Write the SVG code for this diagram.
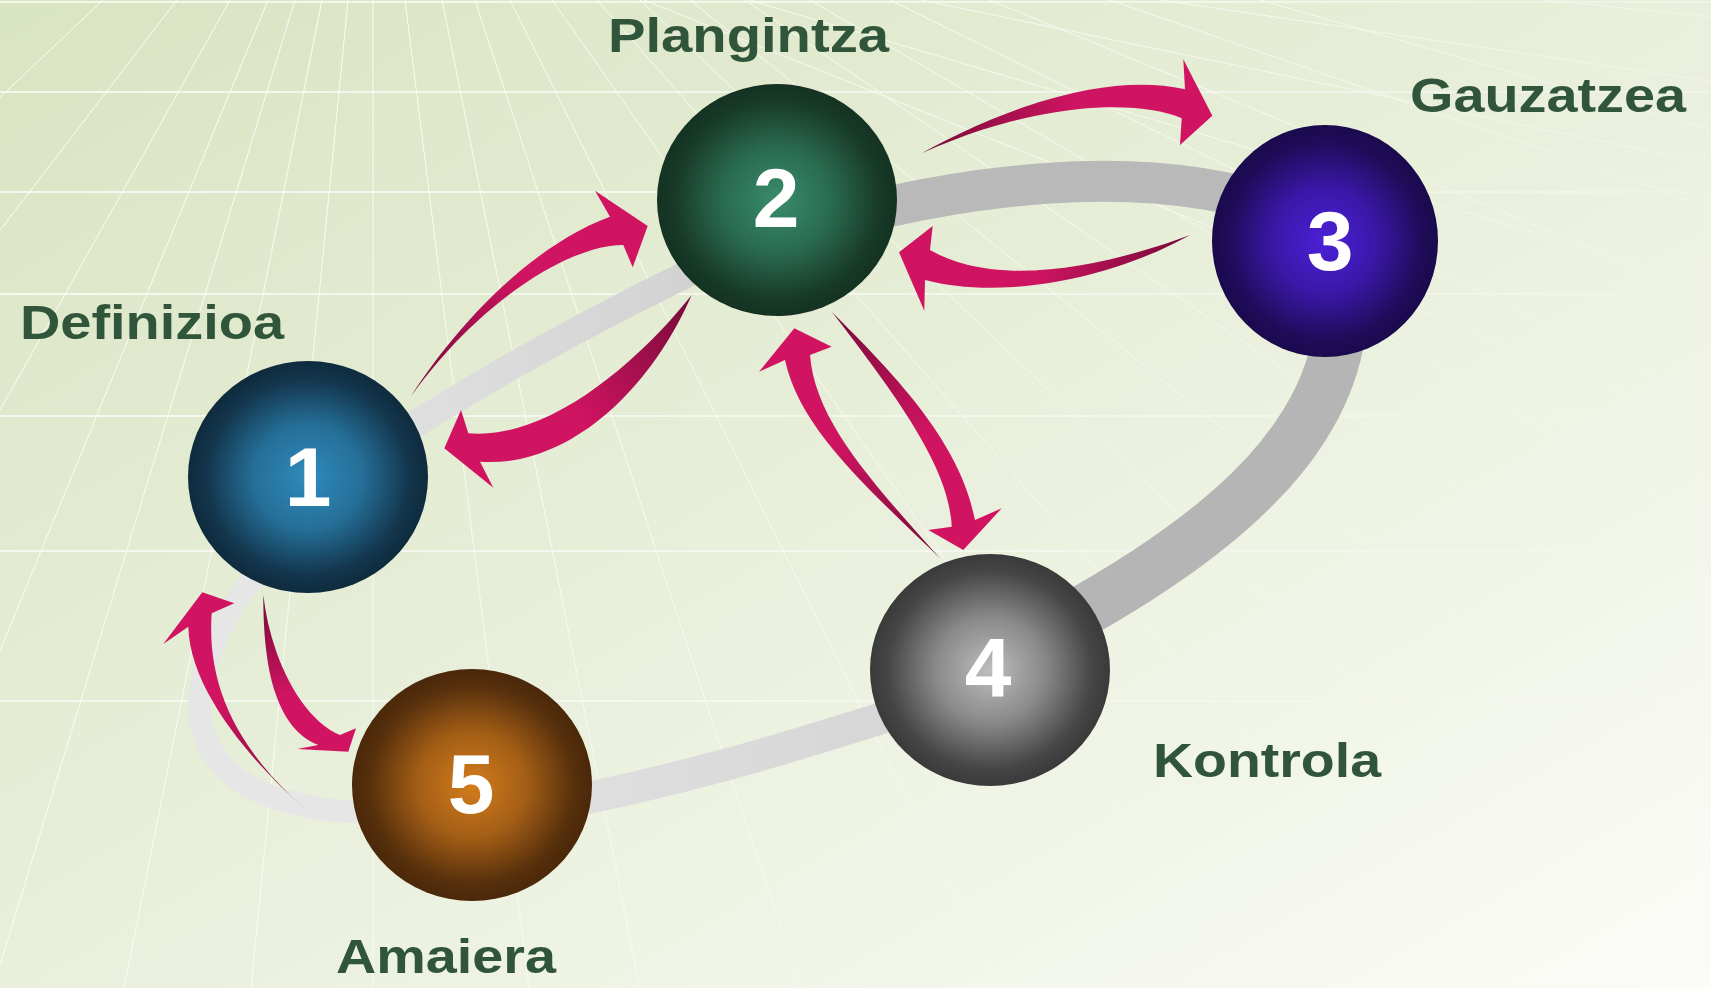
<svg xmlns="http://www.w3.org/2000/svg" width="1711" height="988" viewBox="0 0 1711 988">
<defs>
<style>
.lbl{font-family:"Liberation Sans",Arial,sans-serif;font-weight:bold;font-size:48px;fill:#30553a}
.num{font-family:"Liberation Sans",Arial,sans-serif;font-weight:bold;font-size:84px;fill:#ffffff;text-anchor:middle}
.gh{stroke:#ffffff;stroke-width:1.6;opacity:0.9}
.gr{stroke:#ffffff;stroke-width:1;opacity:0.85}
.ring{fill:none;stroke-linecap:butt}
</style>
<linearGradient id="bg" x1="0" y1="0" x2="1" y2="1">
<stop offset="0" stop-color="#d9e4c2"/>
<stop offset="0.45" stop-color="#e7eed8"/>
<stop offset="1" stop-color="#fbfcf8"/>
</linearGradient>
<linearGradient id="fade" gradientUnits="userSpaceOnUse" x1="250" y1="150" x2="1300" y2="988">
<stop offset="0" stop-color="#ffffff" stop-opacity="1"/>
<stop offset="0.5" stop-color="#ffffff" stop-opacity="0.75"/>
<stop offset="1" stop-color="#ffffff" stop-opacity="0.15"/>
</linearGradient>
<mask id="gridmask" maskUnits="userSpaceOnUse" x="0" y="0" width="1711" height="988">
<rect x="0" y="0" width="1711" height="988" fill="url(#fade)"/>
</mask>
<radialGradient id="c1"><stop offset="0" stop-color="#2f8bbb"/><stop offset="0.45" stop-color="#256f98"/><stop offset="0.85" stop-color="#13354c"/><stop offset="1" stop-color="#0f2b3d"/></radialGradient>
<radialGradient id="c2"><stop offset="0" stop-color="#398c6c"/><stop offset="0.45" stop-color="#2a6b50"/><stop offset="0.85" stop-color="#183a29"/><stop offset="1" stop-color="#143222"/></radialGradient>
<radialGradient id="c3"><stop offset="0" stop-color="#4c20d8"/><stop offset="0.45" stop-color="#3a18a8"/><stop offset="0.85" stop-color="#1f0c5a"/><stop offset="1" stop-color="#1a0a4c"/></radialGradient>
<radialGradient id="c4"><stop offset="0" stop-color="#bdbdbd"/><stop offset="0.45" stop-color="#8a8a8a"/><stop offset="0.85" stop-color="#464646"/><stop offset="1" stop-color="#3a3a3a"/></radialGradient>
<radialGradient id="c5"><stop offset="0" stop-color="#d47c1c"/><stop offset="0.45" stop-color="#a45e16"/><stop offset="0.85" stop-color="#57300c"/><stop offset="1" stop-color="#4a280a"/></radialGradient>
<linearGradient id="r12" gradientUnits="userSpaceOnUse" x1="330" y1="0" x2="760" y2="0"><stop offset="0" stop-color="#e3e3e3"/><stop offset="1" stop-color="#cfcfcf"/></linearGradient>
<linearGradient id="r45" gradientUnits="userSpaceOnUse" x1="470" y1="0" x2="1000" y2="0"><stop offset="0" stop-color="#e2e2e2"/><stop offset="1" stop-color="#d3d3d3"/></linearGradient>
<linearGradient id="aA" gradientUnits="userSpaceOnUse" x1="411" y1="397" x2="648" y2="226"><stop offset="0" stop-color="#760a38"/><stop offset="0.55" stop-color="#cf1461"/><stop offset="1" stop-color="#d11462"/></linearGradient>
<linearGradient id="aB" gradientUnits="userSpaceOnUse" x1="692" y1="295" x2="444" y2="448"><stop offset="0" stop-color="#760a38"/><stop offset="0.55" stop-color="#cf1461"/><stop offset="1" stop-color="#d11462"/></linearGradient>
<linearGradient id="aC" gradientUnits="userSpaceOnUse" x1="922" y1="153" x2="1212" y2="116"><stop offset="0" stop-color="#760a38"/><stop offset="0.55" stop-color="#cf1461"/><stop offset="1" stop-color="#d11462"/></linearGradient>
<linearGradient id="aD" gradientUnits="userSpaceOnUse" x1="1190" y1="235" x2="899" y2="252"><stop offset="0" stop-color="#760a38"/><stop offset="0.55" stop-color="#cf1461"/><stop offset="1" stop-color="#d11462"/></linearGradient>
<linearGradient id="aE" gradientUnits="userSpaceOnUse" x1="832" y1="312" x2="963" y2="550"><stop offset="0" stop-color="#760a38"/><stop offset="0.55" stop-color="#cf1461"/><stop offset="1" stop-color="#d11462"/></linearGradient>
<linearGradient id="aF" gradientUnits="userSpaceOnUse" x1="940" y1="558" x2="794" y2="328"><stop offset="0" stop-color="#760a38"/><stop offset="0.55" stop-color="#cf1461"/><stop offset="1" stop-color="#d11462"/></linearGradient>
<linearGradient id="aG" gradientUnits="userSpaceOnUse" x1="263" y1="595" x2="348" y2="752"><stop offset="0" stop-color="#760a38"/><stop offset="0.55" stop-color="#cf1461"/><stop offset="1" stop-color="#d11462"/></linearGradient>
<linearGradient id="aH" gradientUnits="userSpaceOnUse" x1="307" y1="811" x2="202" y2="592"><stop offset="0" stop-color="#760a38"/><stop offset="0.55" stop-color="#cf1461"/><stop offset="1" stop-color="#d11462"/></linearGradient>
</defs>

<rect x="0" y="0" width="1711" height="988" fill="url(#bg)"/>

<g id="grid" mask="url(#gridmask)">
<line class="gh" x1="0" y1="2" x2="1711" y2="2"/>
<line class="gh" x1="0" y1="92" x2="1711" y2="92"/>
<line class="gh" x1="0" y1="192" x2="1711" y2="192"/>
<line class="gh" x1="0" y1="294" x2="1711" y2="294"/>
<line class="gh" x1="0" y1="416" x2="1711" y2="416"/>
<line class="gh" x1="0" y1="551" x2="1711" y2="551"/>
<line class="gh" x1="0" y1="701" x2="1711" y2="701"/>
<g>
<line class="gr" x1="103" y1="0" x2="-943" y2="988"/>
<line class="gr" x1="177" y1="0" x2="-582" y2="988"/>
<line class="gr" x1="230" y1="0" x2="-324" y2="988"/>
<line class="gr" x1="268" y1="0" x2="-139" y2="988"/>
<line class="gr" x1="295" y1="0" x2="-7" y2="988"/>
<line class="gr" x1="322" y1="0" x2="124" y2="988"/>
<line class="gr" x1="348" y1="0" x2="251" y2="988"/>
<line class="gr" x1="373" y1="0" x2="373" y2="988"/>
<line class="gr" x1="405" y1="0" x2="529" y2="988"/>
<line class="gr" x1="442" y1="0" x2="640" y2="988"/>
<line class="gr" x1="475" y1="0" x2="800" y2="988"/>
<line class="gr" x1="510" y1="0" x2="1000" y2="988"/>
<line class="gr" x1="552" y1="0" x2="1246" y2="988"/>
<line class="gr" x1="597" y1="0" x2="1465" y2="988"/>
<line class="gr" x1="640" y1="0" x2="1675" y2="988"/>
<line class="gr" x1="690" y1="0" x2="1918" y2="988"/>
<line class="gr" x1="745" y1="0" x2="2186" y2="988"/>
<line class="gr" x1="810" y1="0" x2="2503" y2="988"/>
<line class="gr" x1="890" y1="0" x2="2893" y2="988"/>
<line class="gr" x1="990" y1="0" x2="3381" y2="988"/>
<line class="gr" x1="1110" y1="0" x2="3966" y2="988"/>
<line class="gr" x1="1260" y1="0" x2="4697" y2="988"/>
</g>
<g>
<line class="gr" x1="1544" y1="0" x2="1711" y2="16.7"/>
<line class="gr" x1="1160" y1="0" x2="1711" y2="81"/>
<line class="gr" x1="921" y1="0" x2="1711" y2="164"/>
<line class="gr" x1="749" y1="0" x2="1711" y2="285"/>
<line class="gr" x1="644" y1="0" x2="1711" y2="427"/>
</g>
</g>

<g id="connectors">
<path class="ring" d="M 470,805 C 300,830 195,790 200,700 C 203,640 240,590 300,520" stroke="#e6e6e6" stroke-width="23"/>
<path class="ring" d="M 1000,680 C 850,728 690,785 470,820" stroke="url(#r45)" stroke-width="32"/>
<path class="ring" d="M 1342,300 C 1342,420 1250,530 1010,650" stroke="#b5b5b5" stroke-width="52"/>
<path class="ring" d="M 800,230 C 950,185 1150,155 1300,215" stroke="#b9b9b9" stroke-width="41"/>
<path class="ring" d="M 330,478 C 420,420 560,330 760,240" stroke="url(#r12)" stroke-width="27"/>
</g>

<g id="node1"><ellipse cx="308" cy="477" rx="120" ry="116" fill="url(#c1)"/><text class="num" x="308" y="506">1</text></g>
<g id="node2"><ellipse cx="777" cy="200" rx="120" ry="116" fill="url(#c2)"/><text class="num" x="776" y="227">2</text></g>
<g id="node3"><ellipse cx="1325" cy="241" rx="113" ry="116" fill="url(#c3)"/><text class="num" x="1330" y="270">3</text></g>
<g id="node4"><ellipse cx="990" cy="670" rx="120" ry="116" fill="url(#c4)"/><text class="num" x="988" y="697">4</text></g>
<g id="node5"><ellipse cx="472" cy="785" rx="120" ry="116" fill="url(#c5)"/><text class="num" x="471" y="813">5</text></g>

<g id="arrows">
<path fill="url(#aA)" d="M410.7,396.7 C450,335 525,248 610,216.7 L595,190.7 L647.7,226 L632.7,267.3 L623.3,245 C570,245 480,300 410.7,396.7 Z"/>
<path fill="url(#aB)" d="M691.7,295 C640,360 550,440 468.3,433.3 L461,410 L444.3,448.3 L493.3,487.7 L480,461.7 C565,468 648,395 691.7,295 Z"/>
<path fill="url(#aC)" d="M921.7,153.3 C990,115 1100,70 1185,89.3 L1183.3,59.3 L1212.3,115.7 L1180,145 L1181.7,118.3 C1140,100 1040,100 921.7,153.3 Z"/>
<path fill="url(#aD)" d="M1190,235 C1110,265 1000,290 930,250 L932.7,226 L899,252.3 L924.3,310.7 L925,280 C1000,300 1110,280 1190,235 Z"/>
<path fill="url(#aE)" d="M831.7,311.7 C890,370 960,440 975,520 L1001.7,508.3 L963.3,550 L928.3,530 L951.7,526.7 C950,470 900,400 831.7,311.7 Z"/>
<path fill="url(#aF)" d="M940,558.3 C870,490 800,430 785,360 L759,371.7 L794.3,328.3 L831.7,346.7 L810,355 C815,420 870,480 940,558.3 Z"/>
<path fill="url(#aG)" d="M263.3,595 C270,655 300,718 340,735 L356,728.3 L348.3,751.7 L297.3,749 L318.3,745 C285,732 263,690 263.3,595 Z"/>
<path fill="url(#aH)" d="M306.7,810.7 C250,760 190,690 188.3,626.7 L163.3,644 L202.3,592.3 L234.3,603.3 L211.7,613.3 C207,680 232,745 306.7,810.7 Z"/>
</g>

<g id="labels">
<text class="lbl" x="20" y="339" textLength="264" lengthAdjust="spacingAndGlyphs">Definizioa</text>
<text class="lbl" x="608" y="52" textLength="281" lengthAdjust="spacingAndGlyphs">Plangintza</text>
<text class="lbl" x="1410" y="112" textLength="276" lengthAdjust="spacingAndGlyphs">Gauzatzea</text>
<text class="lbl" x="1153" y="777" textLength="228" lengthAdjust="spacingAndGlyphs">Kontrola</text>
<text class="lbl" x="336" y="973" textLength="220" lengthAdjust="spacingAndGlyphs">Amaiera</text>
</g>
</svg>
